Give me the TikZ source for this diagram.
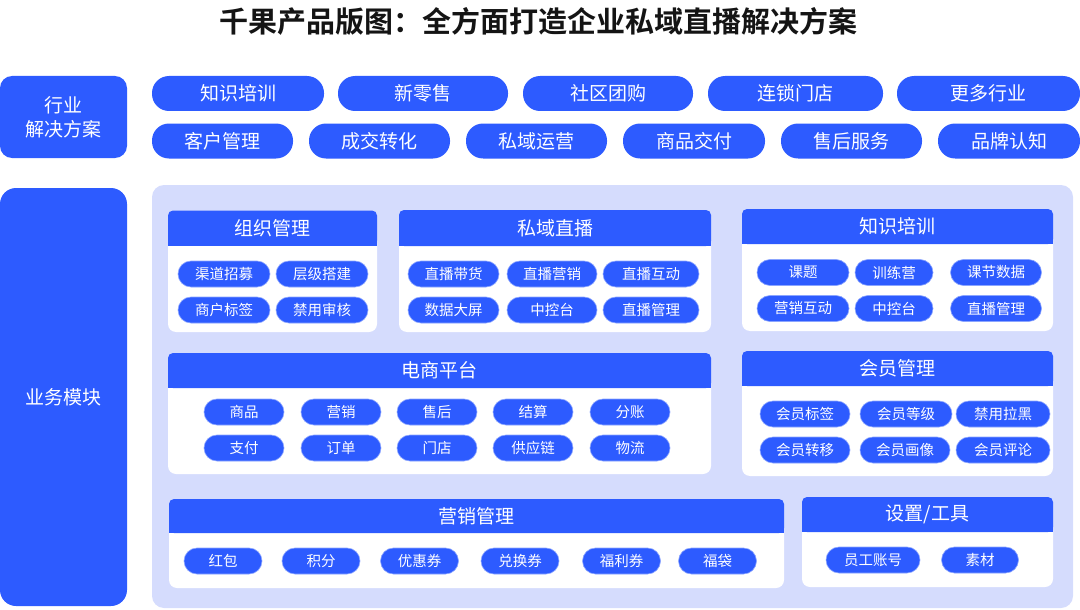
\documentclass[tikz,border=0pt]{standalone}
\usepackage{fontspec}
\newfontfamily\cjk{Noto Sans CJK SC}
\newfontfamily\cjktitle{Noto Sans CJK SC Bold}
\definecolor{qblue}{HTML}{2D5BFF}
\definecolor{qlight}{HTML}{D5DCFD}
\definecolor{qink}{HTML}{141414}

\begin{document}
\begin{tikzpicture}[
    x=1pt, y=-1pt,
    every node/.style={text=white, inner sep=0pt},
    sidebox/.style={fill=qblue, rounded corners=12pt, minimum width=127pt,
      align=center, font=\cjk\fontsize{19}{24}\selectfont},
    pillbig/.style={fill=qblue, rounded corners=17pt, minimum height=35pt,
      font=\cjk\fontsize{19}{19}\selectfont},
    pillsmall/.style={fill=qblue, draw=qblue!55!white, line width=0.6pt,
      rounded corners=13pt, minimum height=26pt,
      font=\cjk\fontsize{14.5}{14.5}\selectfont},
    headtext/.style={font=\cjk\fontsize{19}{19}\selectfont},
  ]

  \useasboundingbox (0,0) rectangle (1080,610);

  % ===== Title =====
  \node[text=qink, font=\cjktitle\fontsize{29}{29}\selectfont] (title) at (538.5,21)
    {千果产品版图：全方面打造企业私域直播解决方案};

  % ===== Industry solutions =====
  \node[sidebox, minimum height=82pt] (industry) at (63.5,117) {行业\\解决方案};

  \node[pillbig, minimum width=172pt] (indKnow) at (238,93.5) {知识培训};
  \node[pillbig, minimum width=170pt] (indRetail) at (423,93.5) {新零售};
  \node[pillbig, minimum width=170pt] (indGroup) at (608,93.5) {社区团购};
  \node[pillbig, minimum width=175pt] (indChain) at (795.5,93.5) {连锁门店};
  \node[pillbig, minimum width=183pt] (indMore) at (988.5,93.5) {更多行业};

  \node[pillbig, minimum width=141pt] (solClient) at (222.5,141) {客户管理};
  \node[pillbig, minimum width=141pt] (solDeal) at (379.5,141) {成交转化};
  \node[pillbig, minimum width=141pt] (solOps) at (536.5,141) {私域运营};
  \node[pillbig, minimum width=142pt] (solDeliver) at (694,141) {商品交付};
  \node[pillbig, minimum width=141pt] (solAfter) at (851.5,141) {售后服务};
  \node[pillbig, minimum width=142pt] (solBrand) at (1009,141) {品牌认知};

  % ===== Business modules =====
  \node[sidebox, rounded corners=16pt, minimum height=418pt] (modules) at (63.5,397) {业务模块};

  % Background
  \fill[qlight, rounded corners=12pt] (152,185) rectangle (1073,608);

  % Organisation panel
  \fill[white, rounded corners=8pt] (168,235) rectangle (377,332);
  \fill[qblue, rounded corners=5pt] (168,210.5) rectangle (377,245.5);
  \fill[qblue] (168,238) rectangle (377,245.5);
  \node[headtext] (orgHead) at (272.5,228) {组织管理};
  \node[pillsmall, minimum width=92pt] (org1) at (224,274) {渠道招募};
  \node[pillsmall, minimum width=92pt] (org2) at (322,274) {层级搭建};
  \node[pillsmall, minimum width=92pt] (org3) at (224,310) {商户标签};
  \node[pillsmall, minimum width=92pt] (org4) at (322,310) {禁用审核};

  % Live panel
  \fill[white, rounded corners=8pt] (399,235) rectangle (711,332);
  \fill[qblue, rounded corners=5pt] (399,210) rectangle (711,246);
  \fill[qblue] (399,238) rectangle (711,246);
  \node[headtext] (liveHead) at (555,228) {私域直播};
  \node[pillsmall, minimum width=91pt] (live1) at (453.5,274) {直播带货};
  \node[pillsmall, minimum width=90pt] (live2) at (552,274) {直播营销};
  \node[pillsmall, minimum width=96pt] (live3) at (651,274) {直播互动};
  \node[pillsmall, minimum width=91pt] (live4) at (453.5,310) {数据大屏};
  \node[pillsmall, minimum width=90pt] (live5) at (552,310) {中控台};
  \node[pillsmall, minimum width=96pt] (live6) at (651,310) {直播管理};

  % Knowledge panel
  \fill[white, rounded corners=8pt] (742,234) rectangle (1053,331);
  \fill[qblue, rounded corners=5pt] (742,209) rectangle (1053,244);
  \fill[qblue] (742,237) rectangle (1053,244);
  \node[headtext] (knowHead) at (897.5,226.5) {知识培训};
  \node[pillsmall, minimum width=92pt] (know1) at (803,272.5) {课题};
  \node[pillsmall, minimum width=78pt] (know2) at (894,272.5) {训练营};
  \node[pillsmall, minimum width=91pt] (know3) at (996,272.5) {课节数据};
  \node[pillsmall, minimum width=92pt] (know4) at (803,308.5) {营销互动};
  \node[pillsmall, minimum width=78pt] (know5) at (894,308.5) {中控台};
  \node[pillsmall, minimum width=91pt] (know6) at (996,308.5) {直播管理};

  % Shop panel
  \fill[white, rounded corners=8pt] (168,378) rectangle (711,474);
  \fill[qblue, rounded corners=5pt] (168,353) rectangle (711,388);
  \fill[qblue] (168,380) rectangle (711,388);
  \node[headtext] (shopHead) at (439.5,370.5) {电商平台};
  \node[pillsmall, minimum width=80pt] (shop1) at (244,412) {商品};
  \node[pillsmall, minimum width=80pt] (shop2) at (341,412) {营销};
  \node[pillsmall, minimum width=80pt] (shop3) at (437,412) {售后};
  \node[pillsmall, minimum width=80pt] (shop4) at (533,412) {结算};
  \node[pillsmall, minimum width=80pt] (shop5) at (630,412) {分账};
  \node[pillsmall, minimum width=80pt] (shop6) at (244,448) {支付};
  \node[pillsmall, minimum width=80pt] (shop7) at (341,448) {订单};
  \node[pillsmall, minimum width=80pt] (shop8) at (437,448) {门店};
  \node[pillsmall, minimum width=80pt] (shop9) at (533,448) {供应链};
  \node[pillsmall, minimum width=80pt] (shop10) at (630,448) {物流};

  % Member panel
  \fill[white, rounded corners=8pt] (742,376) rectangle (1053,476);
  \fill[qblue, rounded corners=5pt] (742,351) rectangle (1053,386);
  \fill[qblue] (742,378) rectangle (1053,386);
  \node[headtext] (memberHead) at (897.5,368.5) {会员管理};
  \node[pillsmall, minimum width=90pt] (member1) at (805,414) {会员标签};
  \node[pillsmall, minimum width=92pt] (member2) at (906,414) {会员等级};
  \node[pillsmall, minimum width=94pt] (member3) at (1003,414) {禁用拉黑};
  \node[pillsmall, minimum width=90pt] (member4) at (805,450) {会员转移};
  \node[pillsmall, minimum width=90pt] (member5) at (905,450) {会员画像};
  \node[pillsmall, minimum width=94pt] (member6) at (1003,450) {会员评论};

  % Marketing panel
  \fill[white, rounded corners=8pt] (169,523) rectangle (784,588);
  \fill[qblue, rounded corners=5pt] (169,499) rectangle (784,533);
  \fill[qblue] (169,525) rectangle (784,533);
  \node[headtext] (marketHead) at (476.5,516) {营销管理};
  \node[pillsmall, minimum width=78pt] (market1) at (223,561) {红包};
  \node[pillsmall, minimum width=78pt] (market2) at (321,561) {积分};
  \node[pillsmall, minimum width=78pt] (market3) at (419.5,561) {优惠券};
  \node[pillsmall, minimum width=78pt] (market4) at (520,561) {兑换券};
  \node[pillsmall, minimum width=78pt] (market5) at (621.5,561) {福利券};
  \node[pillsmall, minimum width=78pt] (market6) at (717.5,561) {福袋};

  % Tools panel
  \fill[white, rounded corners=8pt] (802,522) rectangle (1053,587);
  \fill[qblue, rounded corners=5pt] (802,497) rectangle (1053,532);
  \fill[qblue] (802,524) rectangle (1053,532);
  \node[headtext] (toolHead) at (927.5,514.5) {设置/工具};
  \node[pillsmall, minimum width=94pt] (tool1) at (873,560) {员工账号};
  \node[pillsmall, minimum width=77pt] (tool2) at (980,560) {素材};

\end{tikzpicture}
\end{document}
